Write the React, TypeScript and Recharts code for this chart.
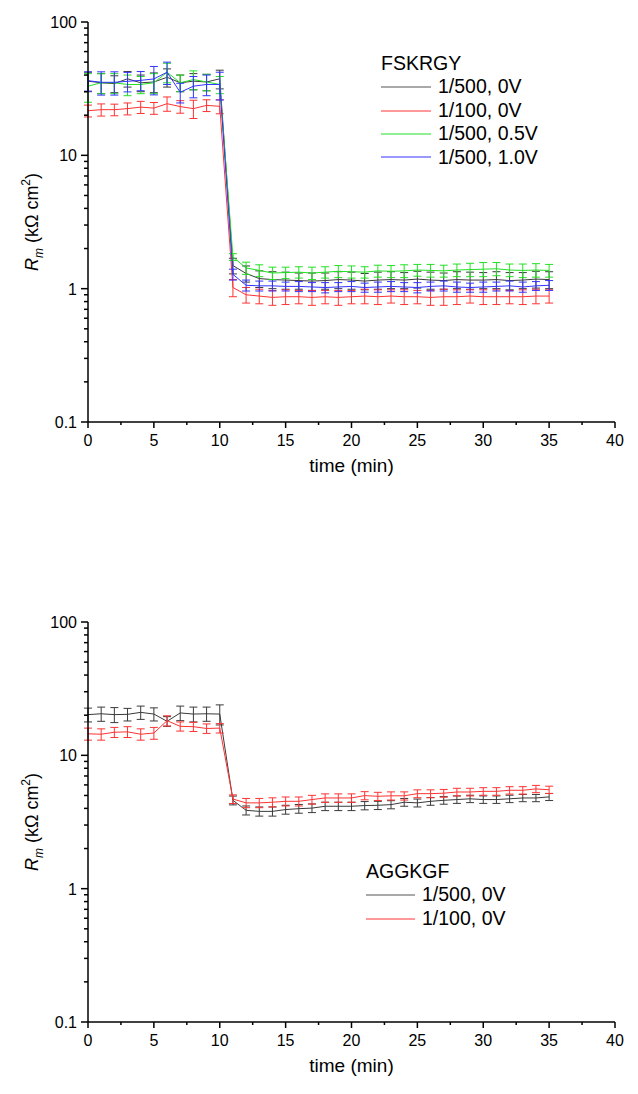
import { LineChart, Line, XAxis, YAxis, ErrorBar } from "recharts";

const time = [0, 1, 2, 3, 4, 5, 6, 7, 8, 9, 10, 11, 12, 13, 14, 15, 16, 17, 18, 19, 20, 21, 22, 23, 24, 25, 26, 27, 28, 29, 30, 31, 32, 33, 34, 35];

const xTicks = [0, 2.5, 5, 7.5, 10, 12.5, 15, 17.5, 20, 22.5, 25, 27.5, 30, 32.5, 35, 37.5, 40];
const yTicks = [0.1, 0.2, 0.3, 0.4, 0.5, 0.6, 0.7, 0.8, 0.9, 1, 2, 3, 4, 5, 6, 7, 8, 9, 10, 20, 30, 40, 50, 60, 70, 80, 90, 100];
const yMajor = [0.1, 1, 10, 100];

// FSKRGY
const fBlack = [36, 35, 34.5, 37.5, 35, 35.5, 38.5, 35, 36, 35.5, 37.5, 1.49, 1.3, 1.19, 1.17, 1.16, 1.15, 1.14, 1.15, 1.17, 1.16, 1.14, 1.16, 1.17, 1.16, 1.18, 1.16, 1.15, 1.17, 1.16, 1.16, 1.17, 1.15, 1.16, 1.18, 1.17];
const fBlackErr = [6, 6, 5, 5, 5, 6, 6, 5, 5, 5, 6, 0.2, 0.18, 0.17, 0.17, 0.17, 0.16, 0.17, 0.16, 0.17, 0.17, 0.16, 0.17, 0.17, 0.16, 0.17, 0.17, 0.16, 0.17, 0.17, 0.16, 0.17, 0.17, 0.16, 0.17, 0.17];
const fRed = [21.6, 22, 22, 22.4, 23, 22.6, 24.4, 23.2, 22.4, 23.7, 23.3, 1.02, 0.9, 0.88, 0.86, 0.87, 0.87, 0.86, 0.87, 0.86, 0.87, 0.88, 0.87, 0.88, 0.87, 0.87, 0.86, 0.87, 0.87, 0.88, 0.87, 0.87, 0.87, 0.87, 0.88, 0.88];
const fRedErr = [2.2, 2.3, 2.2, 2.3, 2.4, 2.3, 3, 2.5, 3.5, 2.4, 2.8, 0.15, 0.12, 0.11, 0.11, 0.11, 0.1, 0.11, 0.1, 0.11, 0.1, 0.11, 0.11, 0.1, 0.11, 0.1, 0.11, 0.12, 0.11, 0.1, 0.11, 0.11, 0.1, 0.11, 0.11, 0.1];
const fGreen = [33, 35, 35, 34, 34, 35, 42, 35, 37, 35.5, 34, 1.73, 1.43, 1.37, 1.31, 1.32, 1.33, 1.31, 1.33, 1.35, 1.34, 1.33, 1.36, 1.35, 1.36, 1.38, 1.37, 1.36, 1.38, 1.39, 1.4, 1.41, 1.38, 1.37, 1.38, 1.37];
const fGreenErr = [8, 6, 6, 6, 5, 6, 7, 5, 6, 5, 5, 0.1, 0.15, 0.14, 0.14, 0.13, 0.13, 0.14, 0.13, 0.14, 0.14, 0.13, 0.14, 0.14, 0.15, 0.14, 0.15, 0.14, 0.15, 0.16, 0.17, 0.16, 0.15, 0.16, 0.16, 0.15];
const fBlue = [36.3, 35.3, 35.3, 35.9, 36.5, 37.4, 42, 29.7, 33, 34, 34, 1.28, 1.06, 1.05, 1.05, 1.04, 1.04, 1.03, 1.02, 1.03, 1.04, 1.02, 1.03, 1.04, 1.03, 1.02, 1.04, 1.05, 1.03, 1.02, 1.03, 1.04, 1.05, 1.03, 1.05, 1.06];
const fBlueErr = [6, 7, 7, 6, 6, 9, 8, 5, 6, 6, 8, 0.12, 0.1, 0.09, 0.09, 0.08, 0.09, 0.08, 0.09, 0.08, 0.09, 0.08, 0.09, 0.09, 0.08, 0.09, 0.08, 0.09, 0.09, 0.08, 0.09, 0.08, 0.09, 0.09, 0.08, 0.09];

// AGGKGF
const aBlack = [20.2, 20.5, 20.2, 20.3, 21, 20.4, 18, 20.8, 20.4, 20.5, 20.4, 4.6, 3.87, 3.8, 3.8, 3.92, 3.98, 4.02, 4.15, 4.15, 4.15, 4.2, 4.22, 4.27, 4.45, 4.4, 4.52, 4.6, 4.66, 4.72, 4.66, 4.66, 4.72, 4.79, 4.79, 4.88];
const aBlackErr = [2.4, 2.5, 2.6, 2.2, 2.4, 2.3, 1.5, 2.6, 2.6, 2.5, 3.5, 0.35, 0.3, 0.3, 0.3, 0.3, 0.3, 0.3, 0.3, 0.3, 0.3, 0.3, 0.3, 0.3, 0.3, 0.3, 0.3, 0.3, 0.3, 0.3, 0.3, 0.3, 0.3, 0.3, 0.3, 0.3];
const aRed = [14.5, 14.4, 14.9, 15, 14.4, 14.7, 18.2, 16.5, 16.4, 15.9, 16, 4.7, 4.4, 4.4, 4.45, 4.52, 4.52, 4.66, 4.79, 4.79, 4.79, 4.99, 4.93, 4.97, 4.97, 5.16, 5.16, 5.2, 5.31, 5.31, 5.37, 5.37, 5.47, 5.47, 5.6, 5.52];
const aRedErr = [1.5, 1.4, 1.3, 1.4, 1.4, 1.5, 1.6, 1.3, 1.3, 1.3, 1.3, 0.35, 0.35, 0.35, 0.35, 0.35, 0.35, 0.35, 0.35, 0.35, 0.35, 0.35, 0.35, 0.35, 0.35, 0.35, 0.35, 0.35, 0.35, 0.35, 0.35, 0.35, 0.35, 0.35, 0.35, 0.35];

const BLACK = "#3a3a3a";
const RED = "#ff3333";
const GREEN = "#22e022";
const BLUE = "#3333ff";
const FONT = "Arial, 'Liberation Sans', Helvetica, sans-serif";

const topData = time.map((t, i) => ({
  t,
  black: fBlack[i], blackErr: fBlackErr[i],
  red: fRed[i], redErr: fRedErr[i],
  green: fGreen[i], greenErr: fGreenErr[i],
  blue: fBlue[i], blueErr: fBlueErr[i],
}));

const bottomData = time.map((t, i) => ({
  t,
  black: aBlack[i], blackErr: aBlackErr[i],
  red: aRed[i], redErr: aRedErr[i],
}));

const XTick = (props: any) => {
  const { x, y, payload } = props;
  const v = payload.value;
  const major = v % 5 === 0;
  return (
    <g>
      <line x1={x} y1={y} x2={x} y2={y + (major ? 6 : 3)} stroke="#000" strokeWidth={1.5} />
      {major && (
        <text x={x} y={y + 24} textAnchor="middle" fontSize={16} fontFamily={FONT} fill="#000">
          {v}
        </text>
      )}
    </g>
  );
};

const YTick = (props: any) => {
  const { x, y, payload } = props;
  const v = payload.value;
  const major = yMajor.includes(v);
  return (
    <g>
      <line x1={x - (major ? 7 : 4)} y1={y} x2={x} y2={y} stroke="#000" strokeWidth={1.5} />
      {major && (
        <text x={x - 11} y={y + 6} textAnchor="end" fontSize={16} fontFamily={FONT} fill="#000">
          {v}
        </text>
      )}
    </g>
  );
};

const YLabel = (props: any) => {
  const { viewBox } = props;
  const cy = viewBox.y + viewBox.height / 2;
  return (
    <text transform={`translate(38, ${cy}) rotate(-90)`} textAnchor="middle" fontSize={18} fontFamily={FONT} fill="#000">
      <tspan fontStyle="italic">R</tspan>
      <tspan fontStyle="italic" fontSize={12} dy={5}>m</tspan>
      <tspan dy={-5}> (kΩ cm</tspan>
      <tspan fontSize={12} dy={-8}>2</tspan>
      <tspan dy={8}>)</tspan>
    </text>
  );
};

const XLabel = (props: any) => {
  const { viewBox } = props;
  return (
    <text x={viewBox.x + viewBox.width / 2} y={viewBox.y + 50} textAnchor="middle" fontSize={19} fontFamily={FONT} fill="#000">
      time (min)
    </text>
  );
};

function LegendBox({ left, top, title, items, lineW }: { left: number; top: number; title: string; items: { label: string; color: string }[]; lineW: number }) {
  return (
    <div style={{ position: "absolute", left, top, fontFamily: FONT, fontSize: 19.5, lineHeight: "23.4px", color: "#000" }}>
      <div>{title}</div>
      {items.map((it) => (
        <div key={it.label} style={{ display: "flex", alignItems: "center", whiteSpace: "nowrap" }}>
          <svg width={lineW} height={4} style={{ marginRight: 7 }}>
            <line x1={0} y1={2} x2={lineW} y2={2} stroke={it.color} strokeWidth={1.2} />
          </svg>
          <span>{it.label}</span>
        </div>
      ))}
    </div>
  );
}

function Chart({ data, keys }: { data: any[]; keys: { k: string; color: string }[] }) {
  return (
    <LineChart width={638} height={500} data={data} margin={{ top: 22, right: 23, left: 0, bottom: 0 }}>
      <XAxis
        dataKey="t"
        type="number"
        domain={[0, 40]}
        ticks={xTicks}
        interval={0}
        tickSize={0}
        tickMargin={0}
        tickLine={false}
        tick={<XTick />}
        height={78}
        axisLine={{ stroke: "#000", strokeWidth: 1.5 }}
        label={{ content: <XLabel /> }}
      />
      <YAxis
        type="number"
        scale="log"
        domain={[0.1, 100]}
        allowDataOverflow
        ticks={yTicks}
        interval={0}
        tickSize={0}
        tickMargin={0}
        tickLine={false}
        tick={<YTick />}
        width={88}
        axisLine={{ stroke: "#000", strokeWidth: 1.5 }}
        label={{ content: <YLabel /> }}
      />
      {keys.map(({ k, color }) => (
        <Line
          key={k}
          dataKey={k}
          type="linear"
          stroke={color}
          strokeWidth={1}
          dot={false}
          activeDot={false}
          isAnimationActive={false}
        >
          <ErrorBar dataKey={`${k}Err`} width={4} stroke={color} strokeWidth={1} direction="y" isAnimationActive={false} />
        </Line>
      ))}
    </LineChart>
  );
}

export default function App() {
  return (
    <div style={{ position: "absolute", left: 0, top: 0, width: 638, height: 1094, background: "#fff" }}>
      <div style={{ position: "absolute", left: 0, top: 0 }}>
        <Chart
          data={topData}
          keys={[
            { k: "black", color: BLACK },
            { k: "red", color: RED },
            { k: "green", color: GREEN },
            { k: "blue", color: BLUE },
          ]}
        />
      </div>
      <div style={{ position: "absolute", left: 0, top: 600 }}>
        <Chart
          data={bottomData}
          keys={[
            { k: "black", color: BLACK },
            { k: "red", color: RED },
          ]}
        />
      </div>
      <LegendBox
        left={381}
        top={52}
        title="FSKRGY"
        lineW={50}
        items={[
          { label: "1/500, 0V", color: "#555" },
          { label: "1/100, 0V", color: RED },
          { label: "1/500, 0.5V", color: GREEN },
          { label: "1/500, 1.0V", color: BLUE },
        ]}
      />
      <LegendBox
        left={366}
        top={860}
        title="AGGKGF"
        lineW={49}
        items={[
          { label: "1/500, 0V", color: "#555" },
          { label: "1/100, 0V", color: RED },
        ]}
      />
    </div>
  );
}
